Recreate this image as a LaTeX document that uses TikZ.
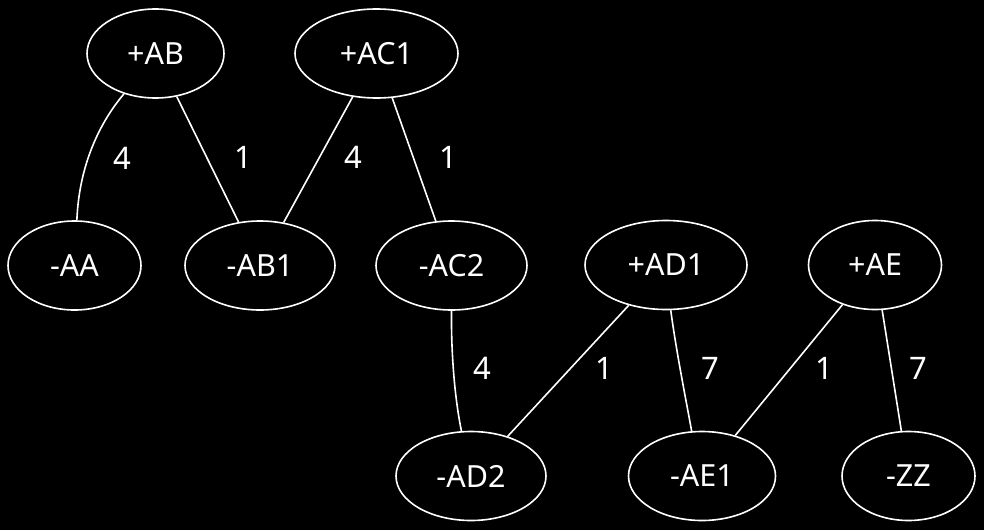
\documentclass[tikz,border=0pt]{standalone}
\usepackage{fontspec}
\setmainfont{Noto Sans}
\usetikzlibrary{shapes.geometric}
\begin{document}
\begin{tikzpicture}[x=1pt,y=-1pt,
  vert/.style={draw=white,line width=1.6pt,ellipse,inner sep=0pt,minimum height=89pt,text=white,font=\fontsize{30.5}{34}\selectfont},
  edge/.style={draw=white,line width=1.6pt},
  wlab/.style={text=white,inner sep=0pt,font=\fontsize{31}{34}\selectfont}]
\fill[black] (0,0) rectangle (984,530);
\useasboundingbox (0,0) rectangle (984,530);
\node[vert,minimum width=137pt] (ab) at (155.5,53.5) {+AB};
\node[vert,minimum width=163pt] (ac1) at (376.5,53.5) {+AC1};
\node[vert,minimum width=133pt] (aa) at (74.5,265.5) {-AA};
\node[vert,minimum width=150pt] (ab1) at (260,265.5) {-AB1};
\node[vert,minimum width=151pt] (ac2) at (451.5,265.5) {-AC2};
\node[vert,minimum width=162pt] (ad1) at (666,265) {+AD1};
\node[vert,minimum width=133pt] (ae) at (875,265) {+AE};
\node[vert,minimum width=150pt] (ad2) at (471,476) {-AD2};
\node[vert,minimum width=147pt] (ae1) at (702,476) {-AE1};
\node[vert,minimum width=133pt] (zz) at (908.5,476) {-ZZ};
\draw[edge] (ab.232) .. controls (100,122) and (79,165) .. (aa.87);
\draw[edge] (ab) -- (ab1);
\draw[edge] (ac1) -- (ab1);
\draw[edge] (ac1) -- (ac2);
\draw[edge] (ac2.270) .. controls (451,355) and (455,400) .. (ad2.102);
\draw[edge] (ad1) -- (ad2);
\draw[edge] (ad1.276) .. controls (676,350) and (686,400) .. (ae1.103);
\draw[edge] (ae) -- (ae1);
\draw[edge] (ae) -- (zz);
\node[wlab] (l1) at (122.5,158) {4};
\node[wlab] (l2) at (243,157) {1};
\node[wlab] (l3) at (353,157) {4};
\node[wlab] (l4) at (448,157) {1};
\node[wlab] (l5) at (482.5,368) {4};
\node[wlab] (l6) at (604.5,368) {1};
\node[wlab] (l7) at (710.5,368) {7};
\node[wlab] (l8) at (824,368) {1};
\node[wlab] (l9) at (918.5,368) {7};
\end{tikzpicture}
\end{document}
